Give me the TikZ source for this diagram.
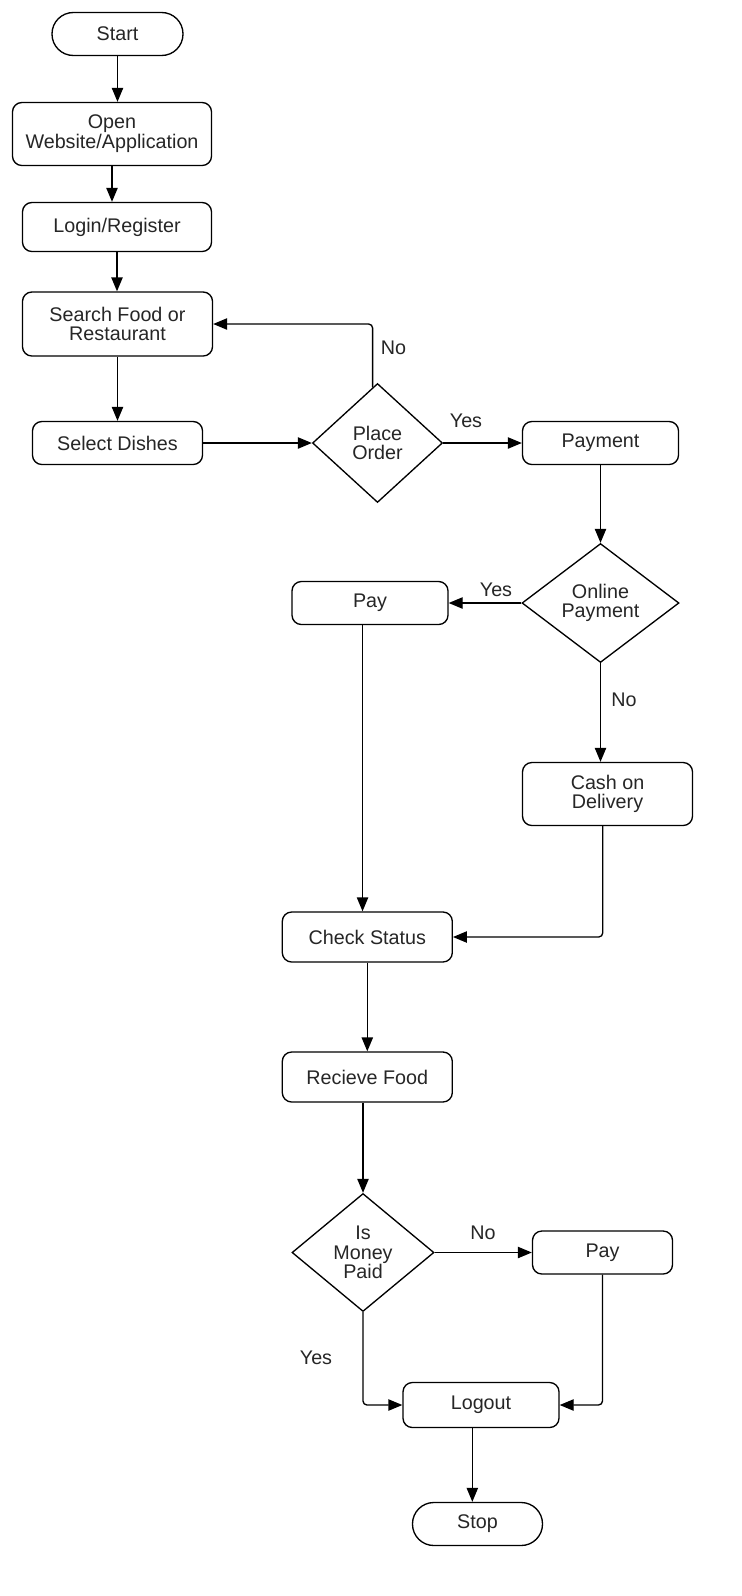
\documentclass[tikz,border=0pt]{standalone}
\usepackage{fontspec}
\setmainfont{Liberation Sans}
\usetikzlibrary{shapes.geometric,arrows.meta}
\begin{document}
\begin{tikzpicture}[x=0.75pt,y=-0.75pt,
  every node/.style={font=\fontsize{14.8pt}{14.8pt}\selectfont, text=black!85, align=center, inner sep=0pt},
  box/.style={draw, line width=1pt, rounded corners=7pt},
  pill/.style={draw, line width=1pt, rounded corners=16pt},
  dia/.style={draw, diamond, line width=1pt},
  sz/.style 2 args={minimum width=#1*0.75pt, minimum height=#2*0.75pt},
  arr/.style={draw, line width=1pt, -{Triangle[length=10.5pt,width=8.5pt]}, rounded corners=3pt}]
\useasboundingbox (0,0) rectangle (742,1596);
\fill[white] (0,0) rectangle (742,1596);

\node[pill, sz={131}{43}] (start) at (117.5,34) {Start};
\node[box, sz={199}{63}] (open) at (112,134) {Open\\Website/Application};
\node[box, sz={189}{49}] (login) at (117,227) {Login/Register};
\node[box, sz={190}{64}] (search) at (117.5,324) {Search Food or\\Restaurant};
\node[box, sz={170}{43}] (select) at (117.5,443) {Select Dishes};
\node[dia, sz={130}{119}] (place) at (377.5,443) {Place\\Order};
\node[box, sz={156}{43}] (payment) at (600.5,443) {Payment};
\node[dia, sz={157}{119}] (online) at (600.5,603) {Online\\Payment};
\node[box, sz={156}{43}] (pay1) at (370,603) {Pay};
\node[box, sz={170}{63}] (cod) at (607.5,794) {Cash on\\Delivery};
\node[box, sz={170}{50}] (check) at (367.3,937) {Check Status};
\node[box, sz={170}{50}] (recv) at (367.3,1077) {Recieve Food};
\node[dia, sz={142}{118}] (money) at (363,1252.5) {Is\\Money\\Paid};
\node[box, sz={140}{43}] (pay2) at (602.5,1252.5) {Pay};
\node[box, sz={156}{45}] (logout) at (481,1405) {Logout};
\node[pill, sz={130}{43}] (stop) at (477.5,1524) {Stop};

\node (lno1) at (393.5,348) {No};
\node (lyes1) at (466,421) {Yes};
\node (lyes2) at (496,590) {Yes};
\node (lno2) at (624,700) {No};
\node (lno3) at (483,1232.5) {No};
\node (lyes3) at (316,1358) {Yes};

\draw[arr] (start.south) -- (start.south |- open.north);
\draw[arr] (open.south) -- (open.south |- login.north);
\draw[arr] (login.south) -- (login.south |- search.north);
\draw[arr] (search.south) -- (search.south |- select.north);
\draw[arr] (select.east) -- (place.west);
\draw[arr] (place.95) |- (search.east);
\draw[arr] (place.east) -- (payment.west);
\draw[arr] (payment.south) -- (online.north);
\draw[arr] (online.west) -- (pay1.east);
\draw[arr] (online.south) -- (online.south |- cod.north);
\coordinate (p1s) at ([xshift=-5.6pt]pay1.south);
\draw[arr] (p1s) -- (p1s |- check.north);
\coordinate (cods) at ([xshift=-3.6pt]cod.south);
\draw[arr] (cods) |- (check.east);
\draw[arr] (check.south) -- (recv.north);
\draw[arr] (money.north |- recv.south) -- (money.north);
\draw[arr] (money.east) -- (pay2.west);
\draw[arr] (money.south) |- (logout.west);
\draw[arr] (pay2.south) |- (logout.east);
\coordinate (los) at ([xshift=-6.5pt]logout.south);
\draw[arr] (los) -- (los |- stop.north);
\end{tikzpicture}
\end{document}
